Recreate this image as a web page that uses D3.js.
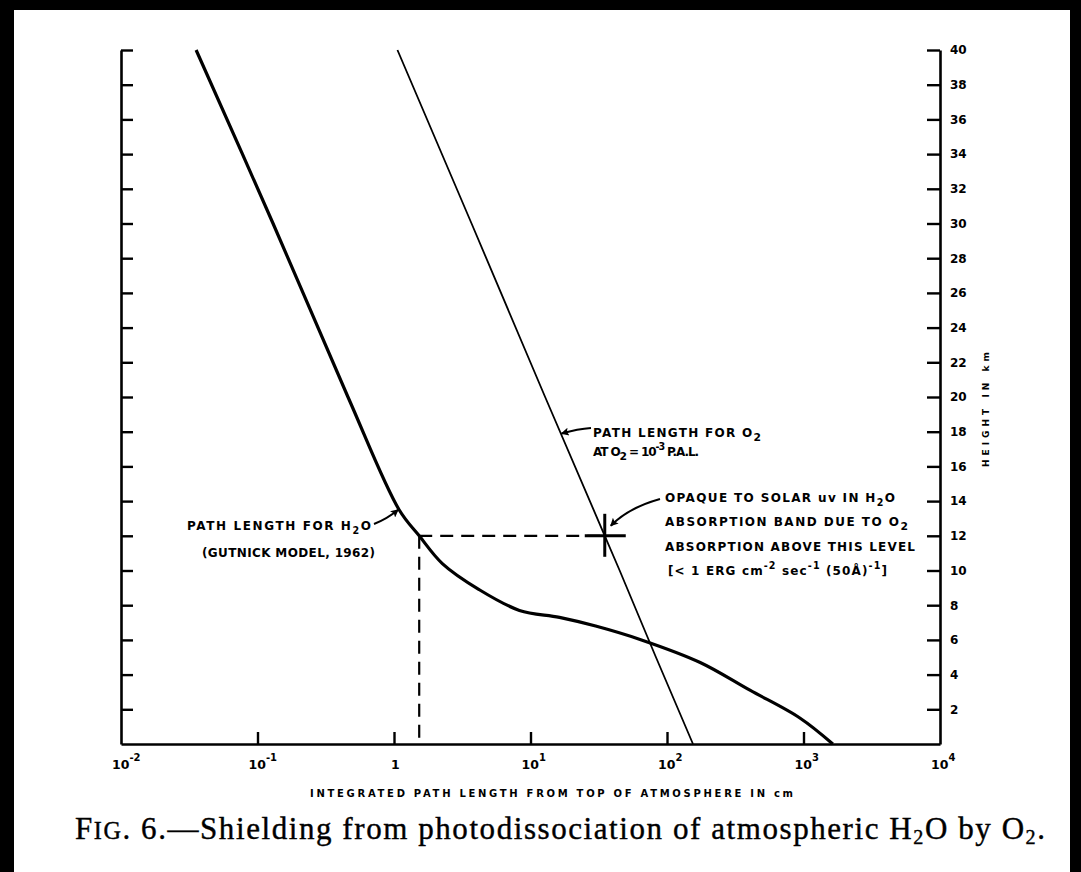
<!DOCTYPE html>
<html>
<head>
<meta charset="utf-8">
<script src="https://cdn.jsdelivr.net/npm/d3@7"></script>
<style>
body { margin: 0; background: #000; }
svg { display: block; }
</style>
</head>
<body>
<svg id="chart" width="1081" height="872"></svg>
<script>
// H2O path length (Gutnick model) - height in km, path in cm
var h2oHeight = [0, 1.5, 3.1, 4.7, 6.0, 6.8, 7.3, 7.7, 8.9, 10.4, 12, 13.5, 20, 30, 40];
var h2oPath = [1640, 940, 405, 175, 65, 30, 16.3, 8.3, 4.2, 2.26, 1.53, 1.09, 0.46, 0.13, 0.0355];

// O2 path length at 10^-3 PAL
var o2Height = [0, 5, 10, 12, 20, 30, 40];
var o2Path = [155, 83, 45, 35, 12.8, 3.7, 1.06];

// opaque level marker
var opaqueHeight = 12;
var opaqueH2o = 1.53;
var opaqueO2 = 35;

// axis ticks
var heightTicks = [2, 4, 6, 8, 10, 12, 14, 16, 18, 20, 22, 24, 26, 28, 30, 32, 34, 36, 38, 40];
var pathTicks = [0.1, 1, 10, 100, 1000];
var pathLabelValues = [0.01, 0.1, 1, 10, 100, 1000, 10000];
var pathLabelBase = ["10", "10", "1", "10", "10", "10", "10"];
var pathLabelExp = ["-2", "-1", "", "1", "2", "3", "4"];

var svg = d3.select("#chart");

// page (scan has black edges)
svg.append("rect")
	.attr("x", 14).attr("y", 10)
	.attr("width", 1056).attr("height", 862)
	.attr("fill", "#fff");

var x = d3.scaleLog().domain([0.01, 10000]).range([121, 940]);
var y = d3.scaleLinear().domain([0, 40]).range([744, 50]);

var font = "DejaVu Sans";

function label(x0, y0, parts, len, size, fam, weight)
{
	size = size || 12;
	var t = svg.append("text")
		.attr("x", x0).attr("y", y0)
		.attr("font-family", fam || font)
		.attr("font-weight", weight || "bold")
		.attr("font-size", size)
		.attr("fill", "#000");
	var shift = 0;
	parts.forEach(function(p)
	{
		if (typeof p === "string") { p = [p, 0, 1]; }
		var ts = t.append("tspan").text(p[0]);
		if (p[1] !== shift) { ts.attr("dy", p[1] - shift); shift = p[1]; }
		if (p[2] && p[2] !== 1) { ts.attr("font-size", size * p[2]); }
	});
	if (len) { t.attr("textLength", len).attr("lengthAdjust", "spacing"); }
	return t;
}

// left axis: ticks inward, no labels
var leftAxis = svg.append("g")
	.attr("transform", "translate(" + x.range()[0] + ",0)")
	.call(d3.axisRight(y).tickValues(heightTicks).tickSize(12).tickSizeOuter(0).tickFormat(""));

// right axis: ticks inward, labels outside
var rightAxis = svg.append("g")
	.attr("transform", "translate(" + x.range()[1] + ",0)")
	.call(d3.axisRight(y).tickValues(heightTicks).tickSizeInner(-13).tickSizeOuter(0).tickPadding(10));

rightAxis.selectAll("text")
	.attr("font-family", font)
	.attr("font-weight", "bold")
	.attr("font-size", 12)
	.attr("fill", "#000");

// bottom axis: ticks pointing up
var bottomAxis = svg.append("g")
	.attr("transform", "translate(0," + y(0) + ")")
	.call(d3.axisBottom(x).tickValues(pathTicks).tickSizeInner(-12).tickSizeOuter(0).tickFormat(""));

[leftAxis, rightAxis, bottomAxis].forEach(function(a)
{
	a.select(".domain").attr("stroke", "#000").attr("stroke-width", 2.6);
	a.selectAll(".tick line").attr("stroke", "#000").attr("stroke-width", 2.4);
});

// bottom labels with exponents
pathLabelValues.forEach(function(v, i)
{
	var parts = [pathLabelBase[i]];
	if (pathLabelExp[i]) { parts.push([pathLabelExp[i], -8, 0.8]); }
	label(x(v) - (pathLabelBase[i] == "1" ? 3 : 9), 769, parts, null, 12.5);
});

// axis titles
label(310, 797, ["INTEGRATED  PATH  LENGTH  FROM  TOP  OF  ATMOSPHERE  IN  cm"], 483, 10);

label(0, 0, ["HEIGHT  IN  km"], 115, 9)
	.attr("transform", "translate(989,467) rotate(-90)");

var o2Data = o2Height.map(function(h, i) { return {h: h, p: o2Path[i]}; });
var h2oData = h2oHeight.map(function(h, i) { return {h: h, p: h2oPath[i]}; });

var line = d3.line()
	.x(function(d) { return x(d.p); })
	.y(function(d) { return y(d.h); });

// O2 line
svg.append("path")
	.datum(o2Data)
	.attr("d", line)
	.attr("fill", "none")
	.attr("stroke", "#000")
	.attr("stroke-width", 1.8);

// H2O curve
svg.append("path")
	.datum(h2oData)
	.attr("d", line.curve(d3.curveCatmullRom.alpha(0.5)))
	.attr("fill", "none")
	.attr("stroke", "#000")
	.attr("stroke-width", 3.2);

// dashed guides
svg.append("line")
	.attr("x1", x(opaqueH2o)).attr("y1", y(opaqueHeight))
	.attr("x2", x(opaqueO2)).attr("y2", y(opaqueHeight))
	.attr("stroke", "#000").attr("stroke-width", 2.2)
	.attr("stroke-dasharray", "13,8");

svg.append("line")
	.attr("x1", x(opaqueH2o)).attr("y1", y(opaqueHeight))
	.attr("x2", x(opaqueH2o)).attr("y2", y(0))
	.attr("stroke", "#000").attr("stroke-width", 2.2)
	.attr("stroke-dasharray", "13,8");

// cross marker
var cx = x(opaqueO2), cy = y(opaqueHeight);
svg.append("line")
	.attr("x1", cx - 20).attr("y1", cy).attr("x2", cx + 21).attr("y2", cy)
	.attr("stroke", "#000").attr("stroke-width", 3);
svg.append("line")
	.attr("x1", cx).attr("y1", cy - 22).attr("x2", cx).attr("y2", cy + 21)
	.attr("stroke", "#000").attr("stroke-width", 3);

// arrows
var defs = svg.append("defs");
defs.append("marker")
	.attr("id", "head")
	.attr("viewBox", "0 0 10 10")
	.attr("refX", 9).attr("refY", 5)
	.attr("markerWidth", 10).attr("markerHeight", 8)
	.attr("markerUnits", "userSpaceOnUse")
	.attr("orient", "auto")
	.append("path")
	.attr("d", "M0,0L10,5L0,10L2,5Z")
	.attr("fill", "#000");

function arrow(x1, y1, qx, qy, x2, y2)
{
	svg.append("path")
		.attr("d", "M" + x1 + "," + y1 + "Q" + qx + "," + qy + " " + x2 + "," + y2)
		.attr("fill", "none")
		.attr("stroke", "#000")
		.attr("stroke-width", 2)
		.attr("marker-end", "url(#head)");
}

var tipH2o = [x(1.09) - 1, y(13.5)];
arrow(374, 524, 387, 519, tipH2o[0], tipH2o[1]);

var tipO2 = [x(16.6), y(17.9)];
arrow(591, 428, 578, 429, tipO2[0] + 1, tipO2[1]);

arrow(660, 499, 628, 508, cx + 6, cy - 10);

// annotation text
label(187, 530, ["PATH  LENGTH  FOR  H", ["2", 4, 0.8], "O"], 184);
label(202, 557, ["(GUTNICK  MODEL, 1962)"], 173);

label(593, 437, ["PATH  LENGTH  FOR  O", ["2", 4, 0.9]], 168);
label(593, 456, ["AT  O", ["2", 4, 0.9], " = 10", ["-3", -6, 0.8], " P.A.L."], 106);

label(665, 502, ["OPAQUE  TO  SOLAR  uv  IN  H", ["2", 4, 0.8], "O"], 230);
label(665, 526, ["ABSORPTION  BAND  DUE  TO  O", ["2", 4, 0.9]], 243);
label(665, 551, ["ABSORPTION  ABOVE  THIS  LEVEL"], 250);
label(668, 575, ["[< 1  ERG  cm", ["-2", -6, 0.8], " sec", ["-1", -6, 0.8], " (50\u00c5)", ["-1", -6, 0.8], "]"], 219);

// caption
label(75, 839, ["F", ["IG", 0, 0.78], ". 6.\u2014Shielding from photodissociation of atmospheric H",
	["2", 5, 0.65], ["O by O", 0, 1], ["2", 5, 0.65], [".", 0, 1]],
	970, 31, "Liberation Serif", "normal")
	.attr("stroke", "#000").attr("stroke-width", 0.4);
</script>
</body>
</html>
